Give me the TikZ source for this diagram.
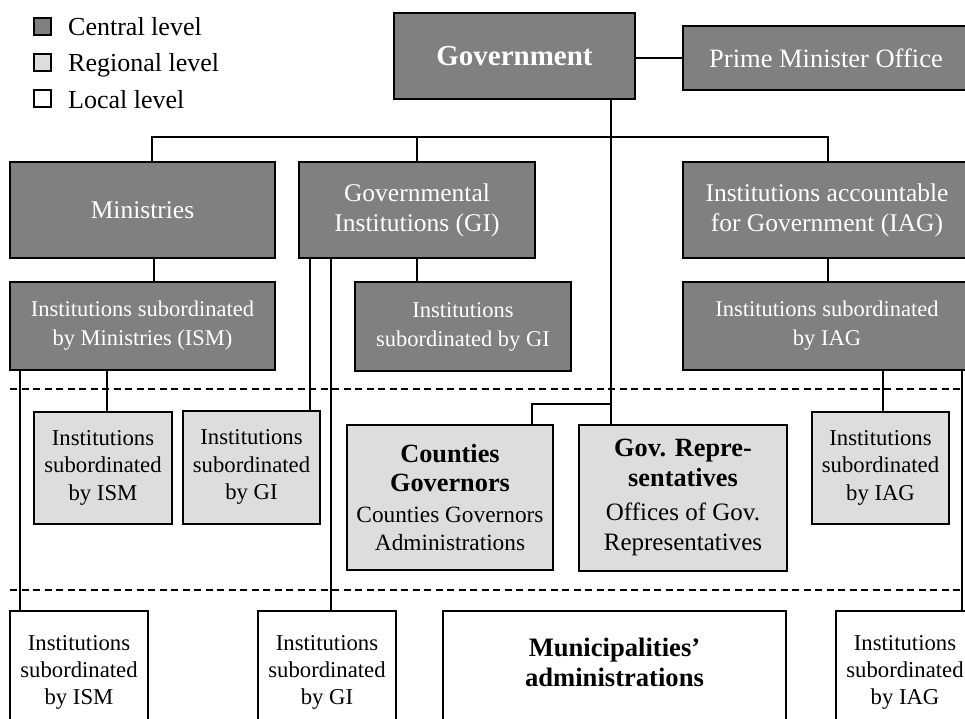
\documentclass[tikz,border=0pt]{standalone}
\usepackage{fontspec}
\setmainfont{Liberation Serif}
\definecolor{cgray}{HTML}{808080}
\definecolor{rgray}{HTML}{DDDDDD}
\tikzset{
  box/.style={draw=black, line width=2pt, inner sep=0pt, align=center, rectangle},
  central/.style={box, fill=cgray, text=white},
  regional/.style={box, fill=rgray, text=black},
  local/.style={box, fill=white, text=black},
  topfont/.style={font=\fontsize{25.5}{30}\selectfont},
  secfont/.style={font=\fontsize{22.5}{29}\selectfont},
  regfont/.style={font=\fontsize{22.7}{27.5}\selectfont},
  locfont/.style={font=\fontsize{22.7}{27}\selectfont},
  conn/.style={line width=1.8pt},
  levelsep/.style={line width=1.5pt, dash pattern=on 7pt off 4.5pt},
  legtext/.style={inner sep=0pt, anchor=base west, font=\fontsize{26}{30}\selectfont}
}
\begin{document}
\begin{tikzpicture}[x=1pt,y=-1pt]
\useasboundingbox (0,0) rectangle (965,718);
\clip (0,0) rectangle (965,718);

% level separators
\coordinate (d1a) at (10,389);
\coordinate (d1b) at (975,389);
\coordinate (d2a) at (10,590);
\coordinate (d2b) at (975,590);
\draw[levelsep] (d1a) -- (d1b);
\draw[levelsep] (d2a) -- (d2b);

% legend
\node[central, minimum size=17] (lc) at (42.5,26) {};
\node[regional, minimum size=17] (lr) at (42.5,62) {};
\node[local, minimum size=17] (ll) at (42.5,98.5) {};
\node[legtext] (lct) at (68,35) {Central level};
\node[legtext] (lrt) at (68,71.5) {Regional level};
\node[legtext] (llt) at (68,108) {Local level};

% central level
\node[central, minimum width=241, minimum height=86, font=\bfseries\fontsize{29}{34}\selectfont] (gov) at (514.5,56) {Government};
\node[central, minimum width=286, minimum height=64, font=\fontsize{26.5}{30}\selectfont] (pmo) at (826,58) {Prime Minister Office};
\node[central, topfont, minimum width=265, minimum height=96] (min) at (142.5,210) {Ministries};
\node[central, topfont, minimum width=236, minimum height=96] (gi) at (417,210) {Governmental\\Institutions (GI)};
\node[central, topfont, minimum width=288, minimum height=96] (iag) at (827,210) {Institutions accountable\\for Government (IAG)};
\node[central, secfont, minimum width=265, minimum height=88] (ism) at (142.5,326) {Institutions subordinated\\by Ministries (ISM)};
\node[central, secfont, minimum width=216, minimum height=89] (isgi) at (463,326.5) {Institutions\\subordinated by GI};
\node[central, secfont, minimum width=288, minimum height=88] (isiag) at (827,326) {Institutions subordinated\\by IAG};

% regional level
\node[regional, regfont, minimum width=138, minimum height=112] (rism) at (103,467.5) {Institutions\\subordinated\\by ISM};
\node[regional, regfont, minimum width=137, minimum height=113] (rgi) at (251.5,467) {Institutions\\subordinated\\by GI};
\node[regional, align=flush center, minimum width=206, minimum height=145, text width=200] (cg) at (450,497.5)
  {\fontsize{26.3}{29}\selectfont\bfseries Counties\\Governors\par\vspace{3pt}%
   \fontsize{23.3}{28}\selectfont\mdseries Counties Governors\\Administrations\par};
\node[regional, align=flush center, minimum width=208, minimum height=146, text width=204] (grep) at (683,498)
  {\fontsize{26.3}{30}\selectfont\bfseries Gov. Repre-\\sentatives\par\vspace{4pt}%
   \fontsize{25}{30}\selectfont\mdseries Offices of Gov.\\Representatives\par\vspace{2pt}};
\node[regional, regfont, minimum width=137, minimum height=112] (riag) at (880.5,467.5) {Institutions\\subordinated\\by IAG};

% local level
\node[local, locfont, minimum width=138, minimum height=122, anchor=north] (lism) at (79,610) {Institutions\\subordinated\\by ISM};
\node[local, locfont, minimum width=138, minimum height=122, anchor=north] (lgi) at (327,610) {Institutions\\subordinated\\by GI};
\node[local, minimum width=343, minimum height=130, anchor=north] (mun) at (614.5,610) {};
\node[inner sep=0pt, align=center, font=\bfseries\fontsize{26.6}{30}\selectfont] (munt) at (614.5,662) {Municipalities'\\administrations};
\node[local, locfont, minimum width=138, minimum height=122, anchor=north] (liag) at (905,610) {Institutions\\subordinated\\by IAG};

% x positions of connectors
\coordinate (bus) at (0,137);
\coordinate (br) at (0,404);
\coordinate (xm) at (152,0);
\coordinate (xmi) at (154,0);
\coordinate (xi) at (828,0);
\coordinate (xg) at (611,0);
\coordinate (xc) at (532,0);
\coordinate (x20) at (20,0);
\coordinate (x107) at (107,0);
\coordinate (x310) at (310,0);
\coordinate (x331) at (331,0);
\coordinate (x883) at (883,0);
\coordinate (x962) at (962,0);

% connectors
\draw[conn] (gov.east |- pmo.west) -- (pmo.west);
\draw[conn] (xm |- min.north) -- (xm |- bus) -- (xi |- bus) -- (xi |- iag.north);
\draw[conn] (gi.north) -- (gi.north |- bus);
\draw[conn] (xg |- gov.south) -- (xg |- grep.north);
\draw[conn] (xg |- br) -| (xc |- cg.north);
\draw[conn] (xmi |- min.south) -- (xmi |- ism.north);
\draw[conn] (gi.south) -- (gi.south |- isgi.north);
\draw[conn] (xi |- iag.south) -- (xi |- isiag.north);
\draw[conn] (x20 |- ism.south) -- (x20 |- lism.north);
\draw[conn] (x107 |- ism.south) -- (x107 |- rism.north);
\draw[conn] (x310 |- gi.south) -- (x310 |- rgi.north);
\draw[conn] (x331 |- gi.south) -- (x331 |- lgi.north);
\draw[conn] (x883 |- isiag.south) -- (x883 |- riag.north);
\draw[conn] (x962 |- isiag.south) -- (x962 |- liag.north);
\end{tikzpicture}
\end{document}
